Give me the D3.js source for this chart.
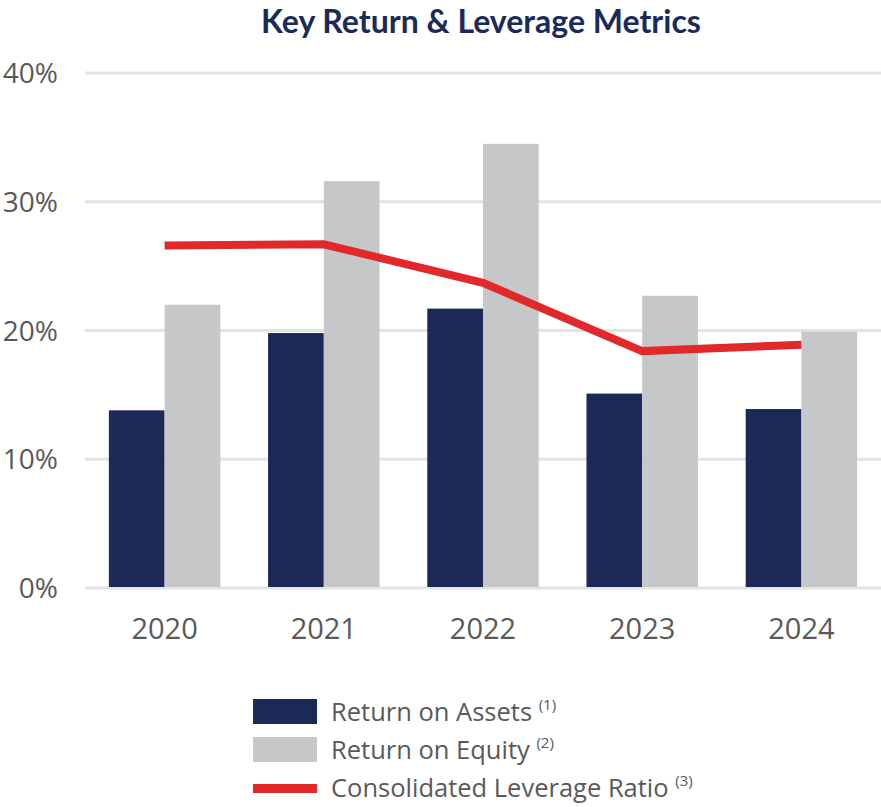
<!DOCTYPE html>
<html>
<head>
<meta charset="utf-8">
<script src="https://cdn.jsdelivr.net/npm/d3@7"></script>
<style>
  body { margin: 0; background: #fff; }
  text { font-family: "Open Sans", sans-serif; }
</style>
</head>
<body>
<svg id="chart"></svg>
<script>
const width = 881;
const height = 807;

// Chart data
const years = ["2020", "2021", "2022", "2023", "2024"];
const returnOnAssets = [13.8, 19.8, 21.7, 15.1, 13.9];
const returnOnEquity = [22.0, 31.6, 34.5, 22.7, 19.9];
const leverageRatio = [26.6, 26.7, 23.7, 18.4, 18.9];
const yTicks = [0, 10, 20, 30, 40];

const navy = "#1b2858";
const grey = "#c6c7c9";
const red = "#e1282b";

const svg = d3.select("#chart").attr("width", width).attr("height", height);

const x = d3.scaleBand().domain(years).range([85, 881]).paddingInner(0.3).paddingOuter(0.15);
const y = d3.scaleLinear().domain([0, 40]).range([588, 73]);

// Title
svg.append("text")
  .attr("x", 481)
  .attr("y", 33)
  .attr("text-anchor", "middle")
  .attr("font-size", 32)
  .attr("font-weight", "bold")
  .attr("fill", "#1b2a5c")
  .style("font-family", "Lato, sans-serif")
  .text("Key Return & Leverage Metrics");

// Gridlines
svg.append("g")
  .selectAll("line")
  .data(yTicks)
  .enter()
  .append("line")
  .attr("x1", 85)
  .attr("x2", 881)
  .attr("y1", (d) => y(d))
  .attr("y2", (d) => y(d))
  .attr("stroke", "#e3e3e3")
  .attr("stroke-width", 3);

// Y axis labels
svg.append("g")
  .selectAll("text")
  .data(yTicks)
  .enter()
  .append("text")
  .attr("x", 58)
  .attr("y", (d) => y(d) + 10)
  .attr("text-anchor", "end")
  .attr("font-size", 28)
  .attr("fill", "#595959")
  .text((d) => d + "%");

// Bars: ROA left of center, ROE right of center
const bw = x.bandwidth() / 2;
svg.append("g")
  .selectAll("rect")
  .data(years)
  .enter()
  .append("rect")
  .attr("x", (d) => x(d))
  .attr("y", (d, i) => y(returnOnAssets[i]))
  .attr("width", bw)
  .attr("height", (d, i) => y(0) - 1 - y(returnOnAssets[i]))
  .attr("fill", navy);

svg.append("g")
  .selectAll("rect")
  .data(years)
  .enter()
  .append("rect")
  .attr("x", (d) => x(d) + bw)
  .attr("y", (d, i) => y(returnOnEquity[i]))
  .attr("width", bw)
  .attr("height", (d, i) => y(0) - 1 - y(returnOnEquity[i]))
  .attr("fill", grey);

// Leverage line at band centers
const line = d3.line()
  .x((d, i) => x(years[i]) + x.bandwidth() / 2)
  .y((d) => y(d));

svg.append("path")
  .datum(leverageRatio)
  .attr("d", line)
  .attr("fill", "none")
  .attr("stroke", red)
  .attr("stroke-width", 8);

// X axis labels
svg.append("g")
  .selectAll("text")
  .data(years)
  .enter()
  .append("text")
  .attr("x", (d) => x(d) + x.bandwidth() / 2)
  .attr("y", 639)
  .attr("text-anchor", "middle")
  .attr("font-size", 29)
  .attr("fill", "#595959")
  .text((d) => d);

// Legend
const legend = [
  { label: "Return on Assets", note: "(1)", color: navy, type: "box" },
  { label: "Return on Equity", note: "(2)", color: grey, type: "box" },
  { label: "Consolidated Leverage Ratio", note: "(3)", color: red, type: "line" },
];

const lg = svg.append("g").attr("transform", "translate(253,699)");
legend.forEach((d, i) => {
  const row = lg.append("g").attr("transform", `translate(0,${i * 38})`);
  if (d.type === "box") {
    row.append("rect").attr("width", 64).attr("height", 25).attr("fill", d.color);
  } else {
    row.append("rect").attr("y", 9).attr("width", 64).attr("height", 9).attr("fill", d.color);
  }
  const t = row.append("text")
    .attr("x", 78)
    .attr("y", 22)
    .attr("font-size", 25.5)
    .attr("fill", "#595959")
    .text(d.label + " ");
  t.append("tspan")
    .attr("font-size", 15)
    .attr("dy", -11)
    .text(d.note);
});
</script>
</body>
</html>
